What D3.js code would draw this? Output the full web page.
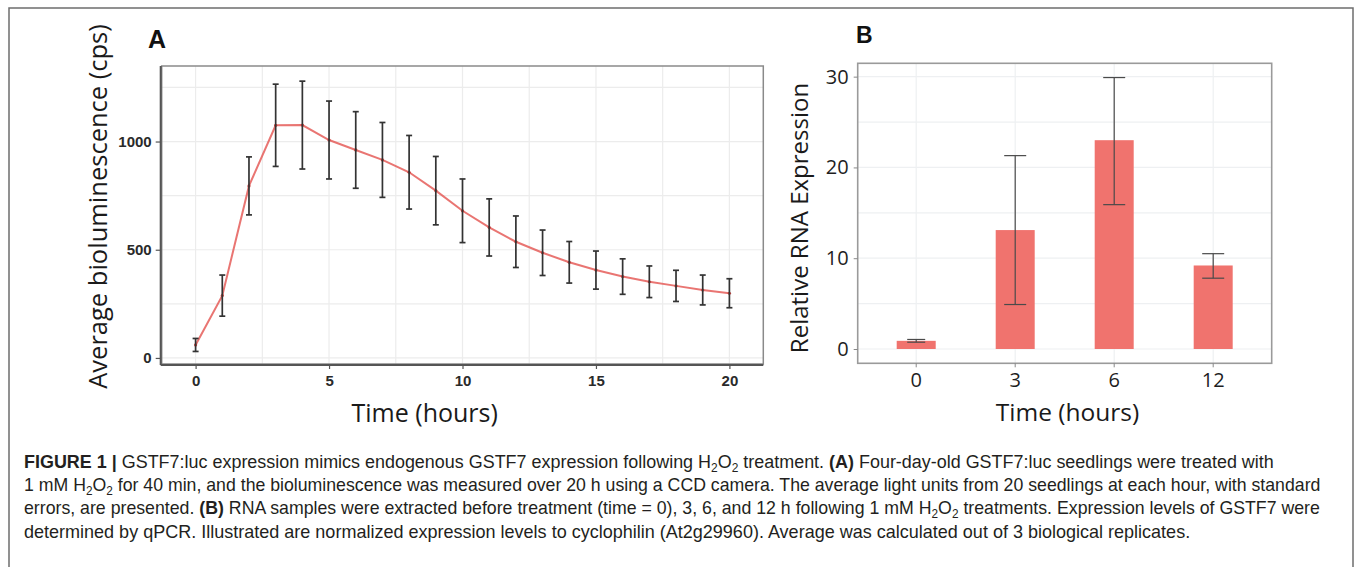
<!DOCTYPE html>
<html>
<head>
<meta charset="utf-8">
<script src="https://cdn.jsdelivr.net/npm/d3@7"></script>
<style>
  html, body { margin: 0; padding: 0; background: #fff; }
  svg { display: block; }
</style>
</head>
<body>
<svg id="fig" width="1355" height="567"></svg>
<script>
// ---------------- DATA ----------------
// Panel A: bioluminescence time course
const hoursA = [0,1,2,3,4,5,6,7,8,9,10,11,12,13,14,15,16,17,18,19,20];
const meanA  = [60,288,795,1075,1076,1007,961,915,858,773,680,603,537,486,442,406,376,352,333,314,299];
const errA   = [30,95,134,190,203,180,177,173,170,158,147,132,119,105,96,88,82,73,72,69,67];
const xTicksA = [0,5,10,15,20];
const yTicksA = [0,500,1000];

// Panel B: relative RNA expression
const timesB = ["0","3","6","12"];
const meanB  = [0.9, 13.1, 23.0, 9.2];
const lowB   = [0.75, 4.9, 15.9, 7.8];
const highB  = [1.05, 21.3, 29.9, 10.5];
const yTicksB = [0,10,20,30];

// Caption
const captionLines = [
  [["b","FIGURE 1 | "],["n","GSTF7:luc expression mimics endogenous GSTF7 expression following H"],["s","2"],["n","O"],["s","2"],["n"," treatment. "],["b","(A)"],["n"," Four-day-old GSTF7:luc seedlings were treated with"]],
  [["n","1 mM H"],["s","2"],["n","O"],["s","2"],["n"," for 40 min, and the bioluminescence was measured over 20 h using a CCD camera. The average light units from 20 seedlings at each hour, with standard"]],
  [["n","errors, are presented. "],["b","(B)"],["n"," RNA samples were extracted before treatment (time = 0), 3, 6, and 12 h following 1 mM H"],["s","2"],["n","O"],["s","2"],["n"," treatments. Expression levels of GSTF7 were"]],
  [["n","determined by qPCR. Illustrated are normalized expression levels to cyclophilin (At2g29960). Average was calculated out of 3 biological replicates."]]
];
const captionEnds = [1274, 1321, 1320, 1191];

// ---------------- DRAW ----------------
const svg = d3.select("#fig");
const labelFont = "'Open Sans', 'Noto Sans', sans-serif";

// outer frame
svg.append("rect").attr("x", 9).attr("y", 8).attr("width", 1344).attr("height", 600)
  .attr("fill", "none").attr("stroke", "#6d6d6d").attr("stroke-width", 1.5);

// ===== Panel A =====
const A = {l: 161.7, r: 763.3, t: 66, b: 364};
const xA = d3.scaleLinear().domain([-1.27, 21.27]).range([A.l, A.r]);
const yA = d3.scaleLinear().domain([-28, 1349]).range([A.b, A.t]);
const gA = svg.append("g");

// grid
const gridA = gA.append("g").attr("stroke", "#ececec").attr("stroke-width", 1.2);
[0,250,500,750,1000,1250].forEach(v => gridA.append("line")
  .attr("x1", A.l).attr("x2", A.r).attr("y1", yA(v)).attr("y2", yA(v)));
[0,2.5,5,7.5,10,12.5,15,17.5,20].forEach(v => gridA.append("line")
  .attr("x1", xA(v)).attr("x2", xA(v)).attr("y1", A.t).attr("y2", A.b));

// panel border
gA.append("rect").attr("x", A.l).attr("y", A.t).attr("width", A.r - A.l).attr("height", A.b - A.t)
  .attr("fill", "none").attr("stroke", "#8a8a8a").attr("stroke-width", 1.5);

// axes
const axLA = gA.append("g").attr("transform", `translate(${A.l - 1},0)`)
  .call(d3.axisLeft(yA).tickValues(yTicksA).tickSize(5).tickPadding(4).tickFormat(d3.format("d")));
const axBA = gA.append("g").attr("transform", `translate(0,${A.b + 1})`)
  .call(d3.axisBottom(xA).tickValues(xTicksA).tickSize(4).tickPadding(6).tickFormat(d3.format("d")));
[axLA, axBA].forEach(ax => {
  ax.select(".domain").attr("stroke", "#555").attr("stroke-width", 2);
  ax.selectAll(".tick line").attr("stroke", "#555").attr("stroke-width", 1.2);
  ax.selectAll(".tick text").attr("fill", "#2a2a2a")
    .style("font-family", "'Liberation Sans', Arial, sans-serif")
    .style("font-weight", "bold").style("font-size", "15px");
});
axLA.select(".domain").attr("d", `M0,${A.t}V${A.b + 1}`);
axBA.select(".domain").attr("d", `M${A.l - 1},0H${A.r}`);

// line
const lineA = d3.line().x((d, i) => xA(hoursA[i])).y(d => yA(d));
gA.append("path").datum(meanA).attr("d", lineA)
  .attr("fill", "none").attr("stroke", "#e4534f").attr("stroke-opacity", 0.8).attr("stroke-width", 2);
gA.selectAll(".ptA").data(meanA).join("circle")
  .attr("cx", (d, i) => xA(hoursA[i])).attr("cy", d => yA(d)).attr("r", 1.6).attr("fill", "#c8403c");

// error bars
const ebA = gA.append("g").attr("stroke", "#333").attr("stroke-width", 1.7);
meanA.forEach((m, i) => {
  const x = xA(hoursA[i]);
  const y1 = yA(m + errA[i]), y0 = yA(m - errA[i]);
  ebA.append("line").attr("x1", x).attr("x2", x).attr("y1", y1).attr("y2", y0);
  ebA.append("line").attr("x1", x - 3).attr("x2", x + 3).attr("y1", y1).attr("y2", y1);
  ebA.append("line").attr("x1", x - 3).attr("x2", x + 3).attr("y1", y0).attr("y2", y0);
});

// labels
svg.append("text").attr("x", 148).attr("y", 48).text("A")
  .style("font-family", "'Liberation Sans', Arial, sans-serif").style("font-weight", "bold")
  .style("font-size", "25px").attr("fill", "#111");
svg.append("text").attr("transform", "translate(100.5,206.5) rotate(-90)")
  .attr("text-anchor", "middle").attr("dy", "0.26em").text("Average bioluminescence (cps)")
  .style("font-family", labelFont).style("font-size", "25.5px").attr("fill", "#1a1a1a");
svg.append("text").attr("x", 424.7).attr("y", 422).attr("text-anchor", "middle").text("Time (hours)")
  .style("font-family", labelFont).style("font-size", "25px").attr("fill", "#1a1a1a");

// ===== Panel B =====
const B = {l: 857.7, r: 1271.7, t: 63.3, b: 363.3};
const xB = d3.scaleBand().domain(timesB).range([B.l, B.r]).paddingInner(0.606).paddingOuter(0.394);
const yB = d3.scaleLinear().domain([-1.575, 31.47]).range([B.b, B.t]);
const gB = svg.append("g");

const gridB = gB.append("g").attr("stroke", "#eef0f2").attr("stroke-width", 1.2);
[0,5,10,15,20,25,30].forEach(v => gridB.append("line")
  .attr("x1", B.l).attr("x2", B.r).attr("y1", yB(v)).attr("y2", yB(v)));
timesB.forEach(c => gridB.append("line")
  .attr("x1", xB(c) + xB.bandwidth() / 2).attr("x2", xB(c) + xB.bandwidth() / 2)
  .attr("y1", B.t).attr("y2", B.b));

// bars
gB.selectAll(".barB").data(meanB).join("rect")
  .attr("x", (d, i) => xB(timesB[i])).attr("width", xB.bandwidth())
  .attr("y", d => yB(d)).attr("height", d => yB(0) - yB(d))
  .attr("fill", "#f0736e");

// error bars
const ebB = gB.append("g").attr("stroke", "#4a4a4a").attr("stroke-width", 1.2);
meanB.forEach((m, i) => {
  const x = xB(timesB[i]) + xB.bandwidth() / 2;
  const y1 = yB(highB[i]), y0 = yB(lowB[i]);
  const hw = i === 0 ? 9 : 11;
  ebB.append("line").attr("x1", x).attr("x2", x).attr("y1", y1).attr("y2", y0);
  ebB.append("line").attr("x1", x - hw).attr("x2", x + hw).attr("y1", y1).attr("y2", y1);
  ebB.append("line").attr("x1", x - hw).attr("x2", x + hw).attr("y1", y0).attr("y2", y0);
});

// border
gB.append("rect").attr("x", B.l).attr("y", B.t).attr("width", B.r - B.l).attr("height", B.b - B.t)
  .attr("fill", "none").attr("stroke", "#9a9a9a").attr("stroke-width", 1.6);

const axLB = gB.append("g").attr("transform", `translate(${B.l},0)`)
  .call(d3.axisLeft(yB).tickValues(yTicksB).tickSize(4).tickPadding(5));
const axBB = gB.append("g").attr("transform", `translate(0,${B.b})`)
  .call(d3.axisBottom(xB).tickSize(4).tickPadding(6));
[axLB, axBB].forEach(ax => {
  ax.select(".domain").remove();
  ax.selectAll(".tick line").attr("stroke", "#888").attr("stroke-width", 1);
  ax.selectAll(".tick text").attr("fill", "#1e1e1e")
    .style("font-family", labelFont).style("font-size", "20px");
});

svg.append("text").attr("x", 856).attr("y", 43.3).text("B")
  .style("font-family", "'Liberation Sans', Arial, sans-serif").style("font-weight", "bold")
  .style("font-size", "23px").attr("fill", "#111");
svg.append("text").attr("transform", "translate(801.7,218) rotate(-90)")
  .attr("text-anchor", "middle").attr("dy", "0.26em").text("Relative RNA Expression")
  .style("font-family", labelFont).style("font-size", "24px").attr("fill", "#1a1a1a");
svg.append("text").attr("x", 1067.5).attr("y", 421).attr("text-anchor", "middle").text("Time (hours)")
  .style("font-family", labelFont).style("font-size", "24.5px").attr("fill", "#1a1a1a");

// ===== Caption =====
const capStartX = 24, capBase0 = 468, capStep = 23.2;
captionLines.forEach((parts, li) => {
  const t = svg.append("text").attr("x", 0).attr("y", 0)
    .style("font-family", "'Liberation Sans', Arial, sans-serif").style("font-size", "18px")
    .attr("fill", "#231f20");
  parts.forEach(([kind, str]) => {
    const ts = t.append("tspan").text(str);
    if (kind === "b") ts.style("font-weight", "bold");
    if (kind === "s") ts.style("font-size", "12px").attr("dy", 4);
  });
  t.selectAll("tspan").each(function(d, i) {
    if (i > 0 && parts[i - 1][0] === "s" && parts[i][0] !== "s") d3.select(this).attr("dy", -4);
    if (i > 0 && parts[i - 1][0] === "s" && parts[i][0] === "s") d3.select(this).attr("dy", 0);
  });
  const w = t.node().getComputedTextLength();
  const k = (captionEnds[li] - capStartX) / w;
  t.attr("transform", `translate(${capStartX},${capBase0 + li * capStep}) scale(${k},1)`);
});
</script>
</body>
</html>
